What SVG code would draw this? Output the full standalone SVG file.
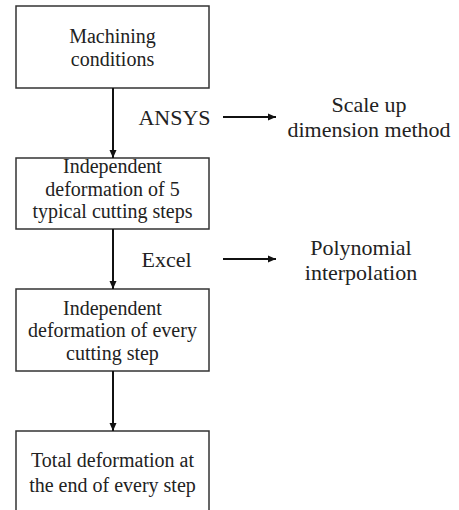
<svg xmlns="http://www.w3.org/2000/svg" width="459" height="510" viewBox="0 0 459 510">
<style>
.box{fill:#fff;stroke:#333;stroke-width:1.5}
.t{font-family:'Liberation Serif','DejaVu Serif',serif;font-size:20px;fill:#222;text-anchor:middle}
.s{font-family:'Liberation Serif','DejaVu Serif',serif;font-size:22px;fill:#222;text-anchor:middle}
.c{stroke:#111;stroke-width:2;fill:none}
</style>
<defs>
<marker id="ah" markerWidth="8" markerHeight="8" refX="8" refY="4" orient="auto" markerUnits="userSpaceOnUse">
<path d="M0,0.5 L8,4 L0,7.5 Z" fill="#111"/>
</marker>
</defs>
<rect width="459" height="510" fill="#fff"/>
<g id="n1"><rect class="box" x="16" y="6" width="193" height="82"/>
<text class="t" x="112.5" y="43">Machining</text><text class="t" x="112.5" y="66">conditions</text></g>
<g id="n2"><rect class="box" x="16" y="158" width="193" height="71"/>
<text class="t" x="112.5" y="173">Independent</text><text class="t" x="112.5" y="196">deformation of 5</text><text class="t" x="112.5" y="218">typical cutting steps</text></g>
<g id="n3"><rect class="box" x="16" y="289" width="193" height="82"/>
<text class="t" x="112.5" y="315">Independent</text><text class="t" x="112.5" y="337">deformation of every</text><text class="t" x="112.5" y="360">cutting step</text></g>
<g id="n4"><rect class="box" x="16" y="431" width="193" height="90"/>
<text class="t" x="112.5" y="467">Total deformation at</text><text class="t" x="112.5" y="492">the end of every step</text></g>
<g id="l1"><text class="s" x="174.5" y="125">ANSYS</text></g>
<g id="l2"><text class="s" x="166.5" y="267">Excel</text></g>
<g id="r1"><text class="s" x="369" y="112">Scale up</text><text class="s" x="369" y="137">dimension method</text></g>
<g id="r2"><text class="s" x="361" y="255">Polynomial</text><text class="s" x="361" y="280">interpolation</text></g>
<g id="connectors">
<line class="c" x1="113" y1="88" x2="113" y2="158" marker-end="url(#ah)"/>
<line class="c" x1="113" y1="229" x2="113" y2="289" marker-end="url(#ah)"/>
<line class="c" x1="113" y1="371" x2="113" y2="431" marker-end="url(#ah)"/>
<line class="c" x1="223" y1="117" x2="276" y2="117" marker-end="url(#ah)"/>
<line class="c" x1="223" y1="259" x2="276" y2="259" marker-end="url(#ah)"/>
</g>
</svg>
